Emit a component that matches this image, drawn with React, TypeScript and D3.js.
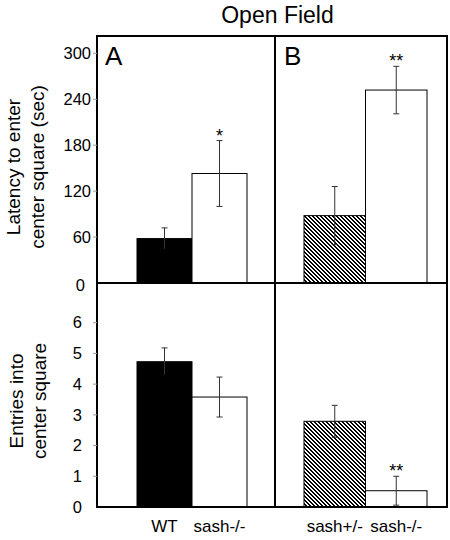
import React from "react";
import * as d3 from "d3";

// ---- data ----
const groupsA = ["WT", "sash-/-"];
const groupsB = ["sash+/-", "sash-/-"];
const fillsA = ["black", "white"];
const fillsB = ["hatch", "white"];

const latencyA = [58, 143];
const latencyAErr = [14, 43];
const latencyASig = ["", "*"];
const latencyB = [88, 252];
const latencyBErr = [38, 31];
const latencyBSig = ["", "**"];

const entriesA = [4.73, 3.58];
const entriesAErr = [0.45, 0.65];
const entriesASig = ["", ""];
const entriesB = [2.79, 0.53];
const entriesBErr = [0.52, 0.47];
const entriesBSig = ["", "**"];

const latencyTicks = [0, 60, 120, 180, 240, 300];
const entriesTicks = [0, 1, 2, 3, 4, 5, 6];

const FONT = "'Liberation Sans', Arial, Helvetica, sans-serif";

// pixels of one 4x4 tile of the "\" hatch
const hatchCells = d3.range(16).map((k) => ({ i: k % 4, j: Math.floor(k / 4) }))
  .filter((c) => ((c.i - c.j + 8) % 4) < 2);

export default function App() {
  const W = 450, H = 540;
  const left = 97, right = 447, top = 36, mid = 283, bottom = 507, divX = 275;

  const yLat = d3.scaleLinear().domain([0, 300]).range([mid, 53.3]);
  const yEnt = d3.scaleLinear().domain([0, 6]).range([bottom, 322.7]);
  const xA = d3.scaleBand().domain(groupsA).range([137, 247]).paddingInner(0);
  const xB = d3.scaleBand().domain(groupsB).range([304, 427]).paddingInner(0);

  const bars = (
    x: d3.ScaleBand<string>,
    y: d3.ScaleLinear<number, number>,
    groups: string[],
    vals: number[],
    errs: number[],
    sigs: string[],
    fills: string[],
    key: string
  ) =>
    groups.map((g, i) => {
      const x0 = x(g)!;
      const bw = x.bandwidth();
      const cx = x0 + bw / 2;
      const y0 = y(0);
      const yv = y(vals[i]);
      const yHi = y(vals[i] + errs[i]);
      const yLo = y(Math.max(0, vals[i] - errs[i]));
      const fill = fills[i] === "hatch" ? "url(#hatch)" : fills[i];
      const errColor = fills[i] === "black" ? "#000" : "#333";
      return (
        <g key={key + i}>
          <rect x={x0} y={yv} width={bw} height={y0 - yv} fill={fill} stroke="#000" strokeWidth={1} />
          <line x1={cx} x2={cx} y1={yHi} y2={yLo} stroke="#333" strokeWidth={1} />
          <line x1={cx - 3} x2={cx + 3} y1={yHi} y2={yHi} stroke="#333" strokeWidth={1} />
          <line x1={cx - 3} x2={cx + 3} y1={yLo} y2={yLo} stroke={errColor} strokeWidth={1} />
          {sigs[i] && (
            <text x={cx} y={yHi + 1} textAnchor="middle" fontSize={18} fontFamily={FONT}>
              {sigs[i]}
            </text>
          )}
        </g>
      );
    });

  return (
    <svg width={W} height={H} style={{ position: "absolute", left: 0, top: 0, background: "#fff" }}>
      <defs>
        <pattern id="hatch" patternUnits="userSpaceOnUse" width={4} height={4}>
          <rect x={0} y={0} width={4} height={4} fill="#fff" />
          {hatchCells.map((c) => (
            <rect key={c.i + "-" + c.j} x={c.i} y={c.j} width={1} height={1} fill="#000" shapeRendering="crispEdges" />
          ))}
        </pattern>
      </defs>

      {/* title */}
      <text x={277.5} y={23} textAnchor="middle" fontSize={23} fontFamily={FONT}>Open Field</text>

      {/* bars */}
      {bars(xA, yLat, groupsA, latencyA, latencyAErr, latencyASig, fillsA, "la")}
      {bars(xB, yLat, groupsB, latencyB, latencyBErr, latencyBSig, fillsB, "lb")}
      {bars(xA, yEnt, groupsA, entriesA, entriesAErr, entriesASig, fillsA, "ea")}
      {bars(xB, yEnt, groupsB, entriesB, entriesBErr, entriesBSig, fillsB, "eb")}

      {/* frame */}
      <rect x={left} y={top} width={right - left} height={bottom - top} fill="none" stroke="#000" strokeWidth={2} />
      <line x1={left} x2={right} y1={mid} y2={mid} stroke="#000" strokeWidth={2} />
      <line x1={divX} x2={divX} y1={top} y2={bottom} stroke="#000" strokeWidth={2} />

      {/* panel letters */}
      <text x={105} y={65} fontSize={26} fontFamily={FONT}>A</text>
      <text x={284} y={65} fontSize={26} fontFamily={FONT}>B</text>

      {/* upper axis */}
      {latencyTicks.map((t) => (
        <g key={"lt" + t}>
          {t !== 0 && <line x1={left - 4} x2={left} y1={yLat(t)} y2={yLat(t)} stroke="#999" strokeWidth={1} />}
          <text x={t === 0 ? 85 : 91} y={yLat(t) + (t === 0 ? 2 : 0)} dy="0.35em" textAnchor="end" fontSize={16.5} fontFamily={FONT}>
            {t}
          </text>
        </g>
      ))}
      {/* lower axis */}
      {entriesTicks.map((t) => (
        <g key={"et" + t}>
          {t !== 0 && <line x1={left - 4} x2={left} y1={yEnt(t)} y2={yEnt(t)} stroke="#999" strokeWidth={1} />}
          <text x={82} y={yEnt(t)} dy="0.35em" textAnchor="end" fontSize={16.5} fontFamily={FONT}>
            {t}
          </text>
        </g>
      ))}

      {/* y titles */}
      <g transform="translate(0,167) rotate(-90)" fontSize={19} fontFamily={FONT} textAnchor="middle">
        <text x={0} y={20}>Latency to enter</text>
        <text x={0} y={44}>center square (sec)</text>
      </g>
      <g transform="translate(0,401) rotate(-90)" fontSize={19} fontFamily={FONT} textAnchor="middle">
        <text x={0} y={23}>Entries into</text>
        <text x={0} y={46}>center square</text>
      </g>

      {/* x labels */}
      {groupsA.map((g) => (
        <text key={"xa" + g} x={xA(g)! + xA.bandwidth() / 2} y={532} textAnchor="middle" fontSize={17} fontFamily={FONT}>
          {g}
        </text>
      ))}
      {groupsB.map((g) => (
        <text key={"xb" + g} x={xB(g)! + xB.bandwidth() / 2} y={532} textAnchor="middle" fontSize={17} fontFamily={FONT}>
          {g}
        </text>
      ))}
    </svg>
  );
}
